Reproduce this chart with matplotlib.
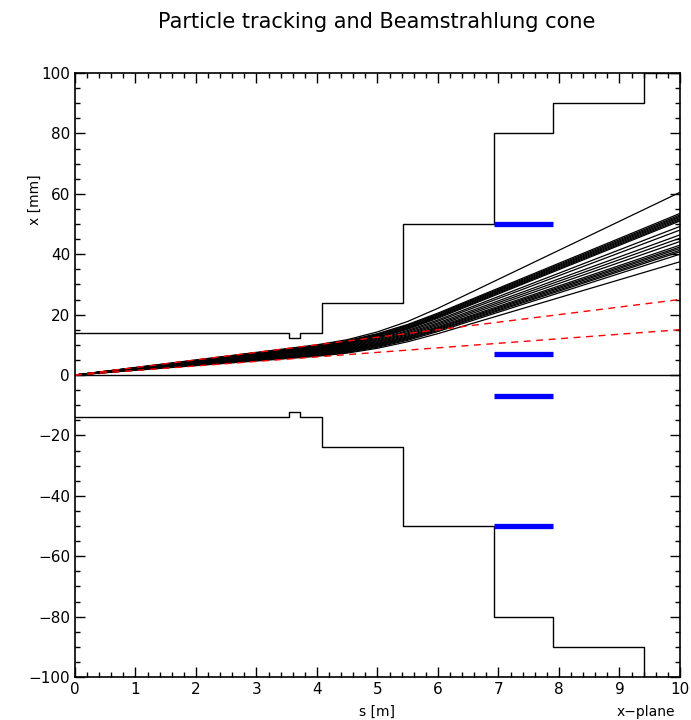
import matplotlib
matplotlib.use("Agg")
import matplotlib.pyplot as plt
from matplotlib.ticker import MultipleLocator
import numpy as np

# aperture outline (upper half, mirrored below)
aper_s = [0.0, 3.54, 3.54, 3.72, 3.72, 4.08, 4.08, 5.42, 5.42, 6.93, 6.93, 7.90, 7.90, 9.40, 9.40, 10.0]
aper_x = [14, 14, 12.3, 12.3, 14, 14, 24, 24, 50, 50, 80, 80, 90, 90, 100, 100]

# blue collimator marks
mark_s = [6.93, 7.90]
mark_x = [50, 7, -7, -50]

# beamstrahlung cone edges (slope in mm/m)
cone_s = [0.0, 10.0]
cone_upper = [0.0, 25.0]
cone_lower = [0.0, 15.0]

# tracked particles, x [mm] at knots s [m]
track_s = [0.0, 4.0, 4.5, 5.0, 5.5, 6.0, 10.0]
tracks = [
    [0, 10.0, 11.69, 14.28, 17.74, 22.10, 60.5],
    [0, 9.80, 11.39, 13.70, 16.74, 20.50, 53.5],
    [0, 9.60, 11.16, 13.45, 16.46, 20.20, 53.0],
    [0, 9.40, 10.94, 13.21, 16.20, 19.92, 52.6],
    [0, 9.20, 10.72, 12.96, 15.94, 19.64, 52.2],
    [0, 9.00, 10.50, 12.72, 15.68, 19.36, 51.8],
    [0, 8.80, 10.27, 12.47, 15.41, 19.08, 51.4],
    [0, 8.60, 10.05, 12.23, 15.15, 18.80, 51.0],
    [0, 8.40, 9.80, 11.91, 14.72, 18.24, 49.2],
    [0, 8.20, 9.57, 11.63, 14.37, 17.80, 48.0],
    [0, 8.00, 9.33, 11.32, 13.97, 17.28, 46.4],
    [0, 7.80, 9.10, 11.04, 13.63, 16.86, 45.3],
    [0, 7.60, 8.87, 10.76, 13.29, 16.44, 44.2],
    [0, 7.40, 8.64, 10.48, 12.94, 16.00, 43.0],
    [0, 7.20, 8.41, 10.22, 12.65, 15.68, 42.4],
    [0, 7.00, 8.19, 9.97, 12.38, 15.38, 41.9],
    [0, 6.80, 7.95, 9.72, 12.08, 15.06, 41.3],
    [0, 6.60, 7.73, 9.47, 11.81, 14.76, 40.8],
    [0, 6.40, 7.50, 9.20, 11.50, 14.40, 40.0],
    [0, 6.20, 7.26, 8.85, 11.01, 13.70, 37.5],
]

fig = plt.figure(figsize=(6.91, 7.2), dpi=100)
ax = fig.add_axes([0.1085, 0.0597, 0.8755, 0.8389])

ax.plot(aper_s, aper_x, color="black", lw=1.0)
ax.plot(aper_s, -np.array(aper_x), color="black", lw=1.0)
ax.axhline(0, color="black", lw=1.0)

for tr in tracks:
    ax.plot(track_s, tr, color="black", lw=0.9)

ax.plot(cone_s, cone_upper, color="red", lw=1.0, ls=(0, (5, 4)))
ax.plot(cone_s, cone_lower, color="red", lw=1.0, ls=(0, (5, 4)))

for xm in mark_x:
    ax.plot(mark_s, [xm, xm], color="blue", lw=3.8, solid_capstyle="butt")

ax.set_xlim(0, 10)
ax.set_ylim(-100, 100)
ax.xaxis.set_major_locator(MultipleLocator(1))
ax.xaxis.set_minor_locator(MultipleLocator(0.2))
ax.yaxis.set_major_locator(MultipleLocator(20))
ax.yaxis.set_minor_locator(MultipleLocator(5))
ax.tick_params(which="both", direction="in", top=True, right=True, labelsize=11, width=1.0)
ax.tick_params(which="major", length=7)
ax.tick_params(which="minor", length=3.5)
for sp in ax.spines.values():
    sp.set_linewidth(1.2)

fig.text(0.545, 0.969, "Particle tracking and Beamstrahlung cone", ha="center", va="center", fontsize=15)
fig.text(0.545, 0.011, "s [m]", ha="center", va="center", fontsize=10)
fig.text(0.934, 0.011, "x\u2212plane", ha="center", va="center", fontsize=10)
fig.text(0.050, 0.722, "x [mm]", ha="center", va="center", fontsize=10, rotation=90)

fig.savefig("out.png", dpi=100)
